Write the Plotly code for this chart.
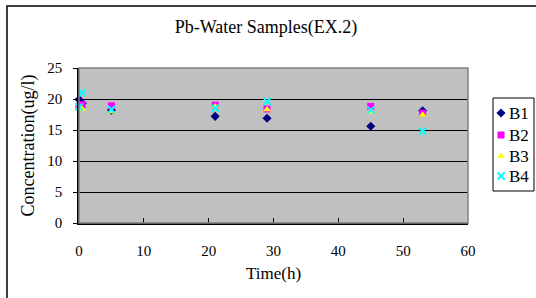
import plotly.graph_objects as go

times_b1 = [0, 0.5, 5, 21, 29, 45, 53]
b1 = [19.9, 19.3, 18.2, 17.2, 16.9, 15.6, 18.1]
times_b2 = [0, 0.5, 5, 21, 29, 45, 53]
b2 = [18.8, 19.1, 18.9, 19.0, 18.4, 18.8, 17.7]
times_b3 = [0, 0.5, 5, 21, 29, 45, 53]
b3 = [18.5, 18.4, 18.0, 18.8, 18.3, 17.9, 17.4]
times_b4 = [0, 0.5, 5, 21, 29, 45, 53]
b4 = [18.7, 21.0, 18.3, 18.5, 19.6, 18.2, 14.8]
series_names = ["B1", "B2", "B3", "B4"]

symbols = ["diamond", "square", "triangle-up", "x-thin-open"]
colors = ["#000080", "#FF00FF", "#FFFF00", "#00FFFF"]
data = [(times_b1, b1), (times_b2, b2), (times_b3, b3), (times_b4, b4)]

def mk(sym, col, size=7):
    if sym == "x-thin-open":
        return dict(symbol=sym, size=size, color=col, line=dict(color=col, width=2))
    return dict(symbol=sym, size=size, color=col, line=dict(width=0))

W, H = 536, 298
L, RP, T, B = 79, 468, 68, 223      # plot-area pixel bounds
PR = W                               # paper right edge (right margin 0)
def px2x(px):
    return (px - L) / (PR - L)
def py2y(py):
    return (B - py) / (B - T)

SERIF = "Liberation Serif"

fig = go.Figure()
for name, (t, v), sym, col in zip(series_names, data, symbols, colors):
    fig.add_trace(go.Scatter(x=t, y=v, mode="markers", name=name, marker=mk(sym, col),
                             cliponaxis=False, showlegend=False))

# legend drawn manually: box + symbol marks on a small hidden subplot + text annotations
leg_y_px = [113, 135, 156, 176]
for name, sym, col, p in zip(series_names, symbols, colors, leg_y_px):
    fig.add_trace(go.Scatter(x=[0.5], y=[py2y(p)], mode="markers", marker=mk(sym, col),
                             xaxis="x2", yaxis="y2", showlegend=False, hoverinfo="skip",
                             cliponaxis=False))
annotations = []
for name, p in zip(series_names, leg_y_px):
    annotations.append(dict(text=name, xref="paper", yref="paper", x=px2x(507), y=py2y(p),
                            xanchor="left", yanchor="middle", showarrow=False,
                            font=dict(family=SERIF, size=17, color="black")))

fig.update_layout(
    width=W, height=H,
    margin=dict(l=L, r=W - PR, t=T, b=H - B, autoexpand=False),
    paper_bgcolor="white",
    plot_bgcolor="rgba(0,0,0,0)",
    font=dict(family=SERIF, size=14, color="black"),
    title=dict(text="Pb-Water Samples(EX.2)", x=266 / W, xanchor="center",
               y=1 - 27 / H, yanchor="middle",
               font=dict(family=SERIF, size=18, color="black")),
    showlegend=False,
    annotations=annotations,
    xaxis=dict(
        domain=[0, px2x(RP)],
        range=[0, 60], dtick=10, showgrid=False, zeroline=False,
        showline=True, linecolor="black", linewidth=1.5,
        ticks="inside", ticklen=5, tickcolor="black",
        tickfont=dict(family=SERIF, size=15), ticklabelstandoff=13,
        title=dict(text="Time(h)", font=dict(family=SERIF, size=17), standoff=9),
    ),
    yaxis=dict(
        range=[0, 25], dtick=5, showgrid=True, gridcolor="black", gridwidth=1,
        zeroline=False, showline=True, linecolor="black", linewidth=1.5,
        ticks="outside", ticklen=4, tickcolor="black",
        tickfont=dict(family=SERIF, size=15), ticklabelstandoff=8,
        title=dict(text="Concentration(ug/l)", font=dict(family=SERIF, size=18), standoff=8),
    ),
    xaxis2=dict(domain=[px2x(495), px2x(507)], range=[0, 1], visible=False, anchor="y2"),
    yaxis2=dict(domain=[0, 1], range=[0, 1], visible=False, anchor="x2"),
    shapes=[
        dict(type="rect", xref="paper", yref="paper",
             x0=px2x(7), x1=px2x(560), y0=py2y(320), y1=py2y(6),
             line=dict(color="black", width=1.5), fillcolor="white", layer="below"),
        dict(type="rect", xref="paper", yref="paper", x0=0, x1=px2x(RP), y0=0, y1=1,
             line=dict(width=0), fillcolor="#C0C0C0", layer="below"),
        dict(type="rect", xref="paper", yref="paper", x0=0, x1=px2x(RP), y0=0, y1=1,
             line=dict(color="#808080", width=1.5), layer="above"),
        dict(type="rect", xref="paper", yref="paper",
             x0=px2x(493), x1=px2x(534), y0=py2y(191), y1=py2y(98),
             line=dict(color="black", width=1), fillcolor="white", layer="below"),
    ],
)

fig.write_html("out.html", config={"displayModeBar": False},
               post_script="document.body.style.margin='0';")
